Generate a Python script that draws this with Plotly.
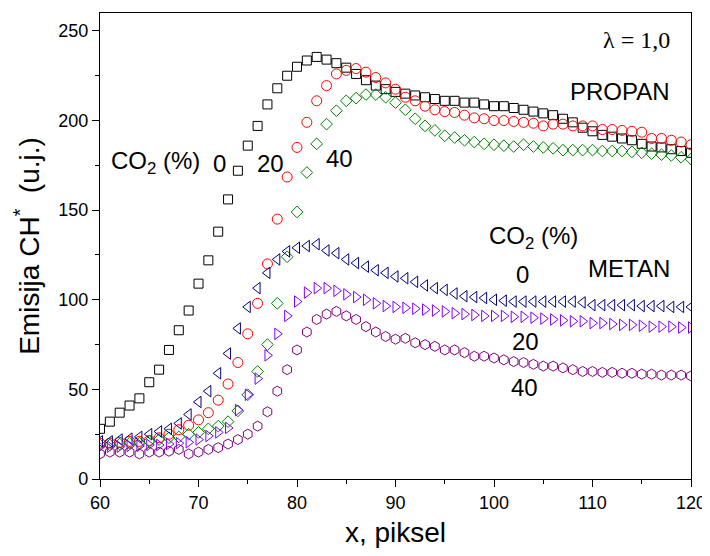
import plotly.graph_objects as go

x_vals = list(range(60, 121))

propan_0 = [28, 32, 37, 41, 45, 54, 61, 72, 83, 94, 109, 122, 138, 156, 172, 186, 197, 209, 218, 225,
            230, 233.5, 235.5, 234, 232, 229.5, 226, 222.5, 219.5, 217.5, 216, 215, 214, 213, 212, 211,
            211, 210, 210, 209, 208, 208, 207, 206, 205, 204, 203, 201, 199, 196, 194, 192, 191, 190,
            189, 187, 185.5, 185, 184, 183, 182]
propan_20 = [20, 20, 20.5, 21, 21, 21.5, 23, 25, 27.5, 30, 33, 37, 44, 53, 65, 81, 98, 120, 145, 168.5,
             185, 199, 211, 219.5, 226, 228, 229, 227, 224, 221, 217.5, 213, 211, 208, 206, 205,
             204.5, 203, 201.5, 201, 200, 200, 199.5, 199, 198.5, 197, 198, 198, 197, 197, 197, 195,
             195, 194.5, 194, 193.5, 190, 190, 189, 188, 186.5]
propan_40 = [19, 19, 19.5, 20, 20, 21, 22, 23, 23.5, 25, 26, 28, 29.5, 32, 38, 47, 60, 75, 98, 124,
             149, 171, 187, 198, 205.5, 211, 212.5, 214.5, 214.5, 213, 210, 206, 201, 197, 194.5,
             191.5, 190.5, 189, 188, 187, 186.5, 186, 185.5, 186.5, 185.5, 185, 184.5, 183.5, 183.5,
             183.5, 183.5, 183, 183, 183, 182.5, 182, 181.5, 181, 180.5, 179.5, 178.5]
metan_0 = [21, 21, 22, 22.5, 23.5, 25, 26.5, 28, 31, 36, 43, 49, 59, 70, 84, 96, 106.5, 115, 122.5, 127,
           129, 130, 131, 127.5, 126, 122.5, 120.5, 118.5, 116.5, 115, 113, 112, 110, 108, 106.5,
           105.5, 103.5, 102, 101.5, 101, 100, 99.5, 99, 99, 99, 99, 99, 99, 99, 98.5, 97, 97, 97,
           97, 97, 96.5, 96.5, 96.5, 96, 96, 96]
metan_20 = [18, 18, 18, 18.5, 18.5, 19, 19, 19.5, 20, 20.5, 22, 24, 26, 28.5, 38.5, 47, 56, 69, 81, 91,
            99, 104, 106.5, 106.5, 105, 103, 101.5, 100, 98, 96.5, 96, 95.5, 95, 94.5, 94, 93.5,
            92.5, 92, 91.5, 91, 91, 91, 90.5, 90.5, 90, 89.5, 89, 88.5, 88, 88, 87, 87, 86.5, 86,
            86, 85.5, 85, 85, 85, 84.5, 84.5]
metan_40 = [14, 15, 15, 15, 14, 15, 15, 15.5, 16.5, 14, 15, 16.5, 17.5, 19.5, 22, 25, 29.5, 37.5, 49, 61,
            72, 82, 89, 92, 93.5, 91, 89, 85, 82, 79.5, 78, 78.5, 76, 75, 74, 72, 72, 70.5, 68.5,
            68.5, 67.5, 66.5, 65.5, 65, 64, 63, 63, 62, 61, 60, 60, 59.5, 59.5, 59, 59, 58.5, 58.5,
            58, 58, 58, 57.5]

x_ticks = [60, 70, 80, 90, 100, 110, 120]
y_ticks = [0, 50, 100, 150, 200, 250]

series = [
    (propan_0, "square-open", "#000000", 9),
    (propan_20, "circle-open", "#ff0000", 10),
    (propan_40, "diamond-open", "#008000", 9),
    (metan_0, "triangle-left-open", "#000080", 10),
    (metan_20, "triangle-right-open", "#8000ff", 10),
    (metan_40, "hexagon-open", "#800080", 10),
]

fig = go.Figure()
for yv, sym, col, sz in series:
    fig.add_trace(go.Scatter(
        x=x_vals, y=yv, mode="markers", cliponaxis=True,
        marker=dict(symbol=sym, size=sz, color=col, line=dict(color=col, width=1)),
        showlegend=False,
    ))

font_main = "Arial, 'Liberation Sans', sans-serif"

annots = [
    dict(x=60.9, y=176.7, text="CO<sub>2</sub> (%)", xanchor="left", size=24),
    dict(x=72.11, y=176.1, text="0", xanchor="center", size=24),
    dict(x=77.28, y=176.1, text="20", xanchor="center", size=24),
    dict(x=84.27, y=178.6, text="40", xanchor="center", size=24),
    dict(x=118.07, y=216.1, text="PROPAN", xanchor="right", size=24),
    dict(x=99.32, y=135.0, text="CO<sub>2</sub> (%)", xanchor="left", size=24),
    dict(x=102.87, y=113.9, text="0", xanchor="center", size=24),
    dict(x=118.07, y=117.2, text="METAN", xanchor="right", size=24),
    dict(x=103.17, y=76.7, text="20", xanchor="center", size=24),
    dict(x=103.07, y=51.1, text="40", xanchor="center", size=24),
]
for a in annots:
    fig.add_annotation(x=a["x"], y=a["y"], xref="x", yref="y", text=a["text"],
                       xanchor=a["xanchor"], yanchor="middle", showarrow=False,
                       font=dict(family=font_main, size=a["size"], color="black"))

fig.add_annotation(x=118.07, y=245, xref="x", yref="y", text="λ = 1,0",
                   xanchor="right", yanchor="middle", showarrow=False,
                   font=dict(family="'Times New Roman', 'Liberation Serif', serif", size=24, color="black"))

axis_common = dict(
    showline=True, linecolor="black", linewidth=1.2, mirror=True,
    ticks="outside", ticklen=7, tickwidth=1.2, tickcolor="black",
    showgrid=False, zeroline=False,
    tickfont=dict(family=font_main, size=18, color="black"),
    ticklabeloverflow="allow",
)

fig.update_xaxes(
    range=[60, 120], tickvals=x_ticks, ticktext=[str(v) for v in x_ticks],
    minor=dict(ticks="outside", ticklen=4, dtick=5, tick0=60, tickcolor="black", showgrid=False),
    title=dict(text="x, piksel", font=dict(family=font_main, size=28, color="black"), standoff=12),
    **axis_common,
)
fig.update_yaxes(
    range=[0, 260], tickvals=y_ticks, ticktext=[str(v) for v in y_ticks],
    minor=dict(ticks="outside", ticklen=4, dtick=25, tick0=0, tickcolor="black", showgrid=False),
    title=dict(text="Emisija CH<sup>*</sup>  (u.j.)", font=dict(family=font_main, size=28, color="black"), standoff=10),
    **axis_common,
)

# The page body has an 8px margin on every side: size the figure so that the
# plot area lands where the reference has it and the page does not overflow.
fig.update_layout(
    width=702, height=540,
    margin=dict(l=92, r=18, t=4, b=68),
    plot_bgcolor="white", paper_bgcolor="white",
    showlegend=False,
)

fig.write_html("out.html", config={"responsive": False, "displayModeBar": False})
